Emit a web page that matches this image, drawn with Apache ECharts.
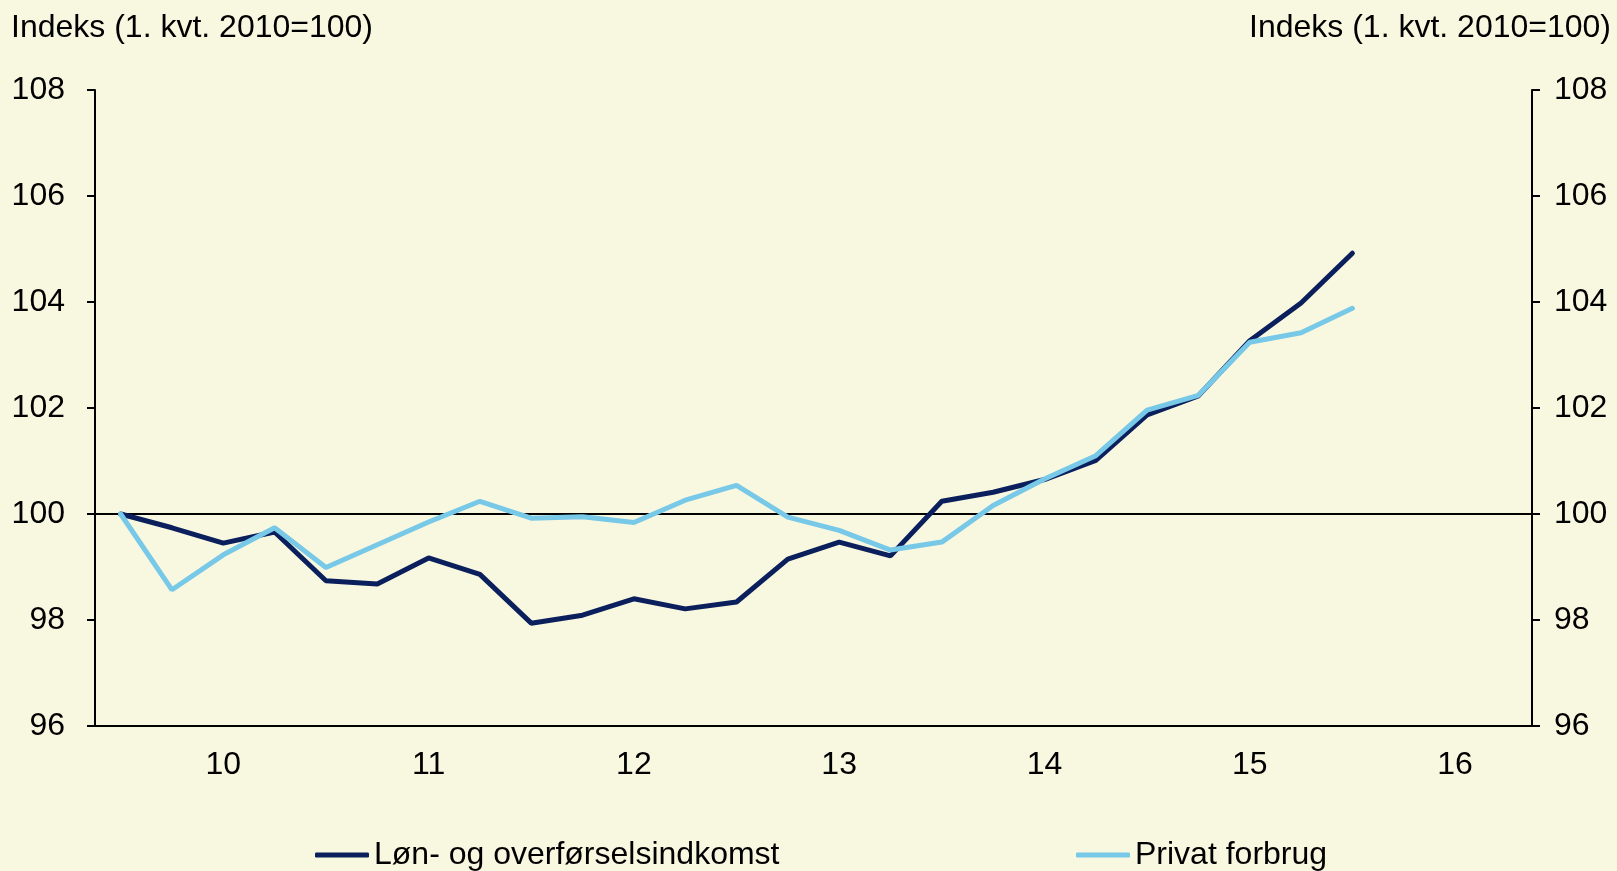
<!DOCTYPE html>
<html>
<head>
<meta charset="utf-8">
<script src="https://cdn.jsdelivr.net/npm/echarts@6/dist/echarts.min.js"></script>
<style>
  html, body { margin: 0; padding: 0; background: #f8f8e0; }
  #chart { width: 1617px; height: 871px; }
</style>
</head>
<body>
<div id="chart"></div>
<script>
// aarstal paa x-aksen, kvartaler bygges ud fra dem
var years = ['10', '11', '12', '13', '14', '15', '16'];
var quarterNames = ['K1', 'K2', 'K3', 'K4'];
var yTicks = [96, 98, 100, 102, 104, 106, 108];

// 1. kvt. 2010 - 1. kvt. 2016
var loen = [100.0, 99.74, 99.45, 99.66, 98.74, 98.68, 99.17, 98.86, 97.94, 98.09, 98.40,
  98.21, 98.34, 99.15, 99.47, 99.21, 100.24, 100.41, 100.65, 101.01, 101.87, 102.23,
  103.27, 103.98, 104.92];
var forbrug = [100.0, 98.57, 99.23, 99.74, 98.99, 99.42, 99.85, 100.24, 99.92, 99.95, 99.84,
  100.26, 100.54, 99.94, 99.69, 99.32, 99.47, 100.16, 100.66, 101.10, 101.96, 102.24,
  103.24, 103.42, 103.88];

var names = ['Løn- og overførselsindkomst', 'Privat forbrug'];
var title = 'Indeks (1. kvt. 2010=100)';

var quarters = [];
years.forEach(function (y) {
  quarterNames.forEach(function (q) { quarters.push(y + q); });
});

var font = 'Liberation Sans, Arial, sans-serif';
var black = '#000';

var myChart = echarts.init(document.getElementById('chart'));
var yAxisBase = {
  type: 'value',
  min: yTicks[0],
  max: yTicks[yTicks.length - 1],
  interval: 2,
  splitLine: { show: false },
  axisLine: { show: true, lineStyle: { color: black, width: 2 } },
  axisTick: { show: true, length: 8, lineStyle: { color: black, width: 2 } },
  axisLabel: { color: black, fontSize: 32, fontFamily: font }
};

option = {
  backgroundColor: '#f8f8e0',
  animation: false,
  title: [
    { text: title, left: 6, top: 7,
      textStyle: { fontSize: 32, fontWeight: 'normal', color: black, fontFamily: font } },
    { text: title, right: 1, top: 7,
      textStyle: { fontSize: 32, fontWeight: 'normal', color: black, fontFamily: font } }
  ],
  legend: [
    { data: [names[0]], left: 310, top: 834, icon: 'roundRect', itemWidth: 54, itemHeight: 5,
      textStyle: { fontSize: 32, color: black, fontFamily: font } },
    { data: [names[1]], left: 1071, top: 834, icon: 'roundRect', itemWidth: 54, itemHeight: 5,
      textStyle: { fontSize: 32, color: black, fontFamily: font } }
  ],
  grid: { left: 95, right: 85, top: 90, bottom: 145 },
  xAxis: {
    type: 'category',
    data: quarters,
    boundaryGap: true,
    axisLine: { lineStyle: { color: black, width: 2 } },
    axisTick: { interval: 3, length: 8, lineStyle: { color: black, width: 2 } },
    axisLabel: {
      interval: function (i) { return i % 4 === 2; },
      formatter: function (v) { return v.slice(0, 2); },
      color: black, fontSize: 32, fontFamily: font, margin: 23
    }
  },
  yAxis: [
    Object.assign({}, yAxisBase, { position: 'left',
      axisLabel: Object.assign({}, yAxisBase.axisLabel, { margin: 30 }) }),
    Object.assign({}, yAxisBase, { position: 'right',
      axisLabel: Object.assign({}, yAxisBase.axisLabel, { margin: 22 }) })
  ],
  series: [
    {
      name: names[0],
      type: 'line',
      data: loen,
      symbol: 'none',
      color: '#0a1f5c',
      lineStyle: { width: 5, color: '#0a1f5c', cap: 'round' },
      z: 3,
      markLine: {
        silent: true,
        symbol: 'none',
        label: { show: false },
        lineStyle: { color: black, width: 2, type: 'solid' },
        data: [{ yAxis: 100 }],
        z: 1
      }
    },
    {
      name: names[1],
      type: 'line',
      data: forbrug,
      symbol: 'none',
      color: '#78c8e8',
      lineStyle: { width: 5, color: '#78c8e8', cap: 'round' },
      z: 4
    }
  ]
};
myChart.setOption(option);
window.onresize = function () {
  myChart.resize();
};
</script>
</body>
</html>
